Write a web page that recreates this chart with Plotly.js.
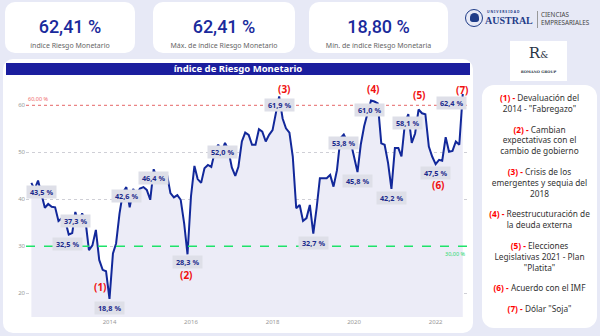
<!DOCTYPE html>
<html><head><meta charset="utf-8">
<script src="https://cdn.plot.ly/plotly-3.0.1.min.js"></script>
<style>
html,body{margin:0;padding:0;width:600px;height:336px;overflow:hidden;background:#E7E9F6;font-family:"Open Sans",sans-serif;}
.card{position:absolute;background:#fff;border-radius:10px;}
.num{position:absolute;left:0;right:0;top:15px;line-height:20px;text-align:center;font-family:Roboto,sans-serif;font-weight:500;font-size:18px;color:#1a2a9c;}
.lab{position:absolute;left:0;right:0;top:38.5px;line-height:9px;text-align:center;font-size:7px;color:#666;font-family:"Noto Sans",sans-serif;}
#chart{position:absolute;left:0;top:0;width:600px;height:336px;}
#tbar{position:absolute;left:6px;top:63px;width:464px;height:12px;background:#1B1E9E;color:#fff;font-weight:bold;font-size:9.5px;line-height:12px;text-align:center;font-family:"Noto Sans",sans-serif;}
#legend{position:absolute;left:482px;top:85px;width:115px;height:243px;background:#fff;border-radius:12px;padding-top:8px;box-sizing:border-box;}
#legend p{margin:0 0 10px 0;text-align:center;font-size:8.3px;line-height:10.8px;color:#333;font-family:"Noto Sans",sans-serif;}
#legend b{color:#f00;}
.logo{position:absolute;font-family:"Noto Sans",sans-serif;white-space:nowrap;}
</style></head>
<body>
<div class="card" style="left:5px;top:2px;width:130px;height:51px;"><div class="num" id="k1"></div><div class="lab">índice Riesgo Monetario</div></div>
<div class="card" style="left:153px;top:2px;width:142px;height:51px;"><div class="num" id="k2"></div><div class="lab">Máx. de índice Riesgo Monetario</div></div>
<div class="card" style="left:309px;top:2px;width:139px;height:51px;"><div class="num" id="k3"></div><div class="lab">Mín. de índice Riesgo Monetaria</div></div>

<div class="logo" style="left:465px;top:9px;width:18px;height:18px;border:1.5px solid #1F3C88;border-radius:50%;box-sizing:border-box;"></div>
<div class="logo" style="left:469.5px;top:13px;width:9px;height:9px;background:#1F3C88;border-radius:50% 50% 30% 30%;"></div>
<div class="logo" style="left:487px;top:10px;font-size:3.4px;line-height:4px;letter-spacing:0.9px;color:#1F3C88;font-weight:bold;">UNIVERSIDAD</div>
<div class="logo" style="left:485px;top:15px;font-size:10px;font-weight:bold;color:#1F3C88;font-family:'Liberation Serif',serif;line-height:11px;">AUSTRAL</div>
<div class="logo" style="left:537px;top:11px;width:1px;height:17px;background:#999;"></div>
<div class="logo" style="left:541px;top:11px;font-size:6.3px;line-height:7.5px;color:#444;">CIENCIAS<br>EMPRESARIALES</div>
<div class="logo" style="left:510px;top:41px;width:57px;height:40px;background:#fff;"></div>
<div class="logo" style="left:510px;top:44px;width:57px;text-align:center;font-family:'DejaVu Serif',serif;font-size:15px;color:#2a3545;line-height:18px;">R<span style="font-size:9px">&amp;</span></div>
<div class="logo" style="left:510px;top:70px;width:57px;text-align:center;font-family:'DejaVu Serif',serif;font-size:3.6px;color:#2a3545;font-weight:bold;">ROMANO GROUP</div>

<div class="card" style="left:3px;top:59px;width:470px;height:274px;"></div>
<div id="tbar">índice de Riesgo Monetario</div>

<div id="legend">
<p><b>(1) -</b> Devaluación del<br>2014 - "Fabregazo"</p>
<p><b>(2) -</b> Cambian<br>expectativas con el<br>cambio de gobierno</p>
<p><b>(3) -</b> Crisis de los<br>emergentes y sequia del<br>2018</p>
<p><b>(4) -</b> Reestrucuturación de<br>la deuda externa</p>
<p><b>(5) -</b> Elecciones<br>Legislativas 2021 - Plan<br>"Platita"</p>
<p><b>(6) -</b> Acuerdo con el IMF</p>
<p><b>(7) -</b> Dólar "Soja"</p>
</div>

<div id="chart"></div>
<script>
const months = [
 "2012-02","2012-03","2012-04","2012-05","2012-06","2012-07","2012-08","2012-09","2012-10","2012-11","2012-12",
 "2013-01","2013-02","2013-03","2013-04","2013-05","2013-06","2013-07","2013-08","2013-09","2013-10","2013-11","2013-12",
 "2014-01","2014-02","2014-03","2014-04","2014-05","2014-06","2014-07","2014-08","2014-09","2014-10","2014-11","2014-12",
 "2015-01","2015-02","2015-03","2015-04","2015-05","2015-06","2015-07","2015-08","2015-09","2015-10","2015-11","2015-12",
 "2016-01","2016-02","2016-03","2016-04","2016-05","2016-06","2016-07","2016-08","2016-09","2016-10","2016-11","2016-12",
 "2017-01","2017-02","2017-03","2017-04","2017-05","2017-06","2017-07","2017-08","2017-09","2017-10","2017-11","2017-12",
 "2018-01","2018-02","2018-03","2018-04","2018-05","2018-06","2018-07","2018-08","2018-09","2018-10","2018-11","2018-12",
 "2019-01","2019-02","2019-03","2019-04","2019-05","2019-06","2019-07","2019-08","2019-09","2019-10","2019-11","2019-12",
 "2020-01","2020-02","2020-03","2020-04","2020-05","2020-06","2020-07","2020-08","2020-09","2020-10","2020-11","2020-12",
 "2021-01","2021-02","2021-03","2021-04","2021-05","2021-06","2021-07","2021-08","2021-09","2021-10","2021-11","2021-12",
 "2022-01","2022-02","2022-03","2022-04","2022-05","2022-06","2022-07","2022-08","2022-09"
];
const riesgo = [
 43.5, 42.1, 44.0, 41.3, 38.2, 39.0, 38.4, 38.3, 35.4, 36.0, 35.4,
 32.5, 32.8, 37.3, 34.9, 37.0, 35.2, 29.2, 30.2, 33.5, 27.1, 25.0, 24.7,
 18.8, 28.5, 30.6, 37.0, 41.4, 42.6, 38.3, 42.2, 41.1, 42.3, 42.6, 42.0,
 39.9, 46.4, 44.5, 44.8, 44.7, 45.2, 41.3, 40.4, 40.9, 39.9, 34.9, 28.3,
 40.6, 47.1, 44.3, 43.5, 46.6, 47.3, 46.9, 50.1, 51.6, 50.1, 52.0, 50.5,
 46.8, 45.0, 46.9, 52.3, 54.2, 53.7, 51.6, 51.6, 54.9, 54.4, 52.3, 53.7,
 54.7, 58.3, 61.9, 57.2, 55.1, 54.2, 49.1, 38.1, 38.8, 35.4, 36.0, 38.8,
 32.7, 38.4, 44.5, 44.5, 44.5, 45.2, 42.7, 46.2, 53.0, 53.8, 52.3, 52.3,
 49.1, 45.8, 51.6, 55.6, 58.3, 61.0, 60.8, 60.4, 51.9, 51.6, 47.7, 42.2,
 50.9, 50.9, 49.1, 56.2, 58.1, 52.0, 54.0, 59.1, 58.3, 58.1, 51.2, 49.1,
 47.5, 48.4, 48.2, 53.2, 50.1, 50.3, 52.3, 51.6, 62.41
];
const xTickVals = ["2014-01-01","2016-01-01","2018-01-01","2020-01-01","2022-01-01"];
const yTickVals = [20, 30, 40, 50, 60];
const refHigh = 60;
const refLow = 30;
const labelMonths = ["2012-02","2013-01","2013-03","2014-01","2014-06","2015-02","2015-12","2016-11","2018-03","2019-01","2019-10","2020-02","2020-06","2020-12","2021-05","2022-01","2022-09"];
const labelXShift = [10,-1,0,0,0,0,0,-3,0,0,0,0,-2,0,-1,0,-11];
const labelYShift = [-9,-9,-9,-9,-9,-9,-7.5,-9,-9,-9,-9,-9,-9,-9,-9,-9,-9];
const eventMonths = ["2014-01","2015-12","2018-03","2020-06","2021-08","2022-01","2022-09"];
const eventTexts = ["(1)","(2)","(3)","(4)","(5)","(6)","(7)"];
const eventShiftX = [-9,-1.5,5,2,0.6,3,0];
const eventShiftY = [12,-21,7,11.6,15,-21,4];

const fmt = (v, d) => v.toFixed(d).replace('.', ',') + ' %';
const last = riesgo[riesgo.length - 1];
document.getElementById('k1').textContent = fmt(last, 2);
document.getElementById('k2').textContent = fmt(Math.max(...riesgo), 2);
document.getElementById('k3').textContent = fmt(Math.min(...riesgo), 2);

const annotations = [];
labelMonths.forEach((m, i) => {
  const v = riesgo[months.indexOf(m)];
  annotations.push({x: m, y: v, xref: 'x', yref: 'y', showarrow: false,
    text: '<b>\u00a0' + fmt(v, 1) + '\u00a0</b>', font: {size: 7.3, color: '#1B2A8C', family: 'Noto Sans'},
    bgcolor: '#DEDFE8', borderpad: 1, xshift: labelXShift[i], yshift: labelYShift[i]});
});
eventMonths.forEach((m, i) => {
  const v = riesgo[months.indexOf(m)];
  annotations.push({x: m, y: v, xref: 'x', yref: 'y', showarrow: false,
    text: '<b>' + eventTexts[i] + '</b>', font: {size: 10, color: '#F01010', family: 'Noto Sans'},
    xshift: eventShiftX[i], yshift: eventShiftY[i]});
});
annotations.push({xref: 'paper', x: 0, xanchor: 'left', yref: 'y', y: refHigh, yshift: 6, showarrow: false,
  text: fmt(refHigh, 2), font: {size: 5.5, color: '#F06A6A', family: 'Noto Sans'}});
annotations.push({xref: 'paper', x: 1, xanchor: 'right', yref: 'y', y: refLow, yshift: -8, showarrow: false,
  text: fmt(refLow, 2), font: {size: 5.5, color: '#1ED96B', family: 'Noto Sans'}});

const trace = {x: months, y: riesgo, type: 'scatter', mode: 'lines',
  line: {color: '#12289A', width: 2}, fill: 'tozeroy', fillcolor: '#ECECF7', hoverinfo: 'skip'};

const layout = {
  width: 600, height: 336, margin: {l: 26, r: 133, t: 80, b: 19},
  paper_bgcolor: 'rgba(0,0,0,0)', plot_bgcolor: '#fff', separators: ',.', showlegend: false,
  xaxis: {type: 'date', range: ['2011-12-15', '2022-10-09'], tickvals: xTickVals, tickformat: '%Y',
    showgrid: false, zeroline: false, showline: false, ticks: '',
    tickfont: {size: 6, color: '#999', family: 'Noto Sans'}},
  yaxis: {range: [14.96, 65.38], tickvals: yTickVals, ticksuffix: ' %', showgrid: true,
    gridcolor: '#CFCFD6', griddash: 'dot', gridwidth: 1, zeroline: false, showline: false, ticks: '',
    tickfont: {size: 6, color: '#999', family: 'Noto Sans'}},
  shapes: [
    {type: 'line', xref: 'paper', x0: 0, x1: 1, yref: 'y', y0: refHigh, y1: refHigh, line: {color: '#F07070', width: 1, dash: 'dot'}},
    {type: 'line', xref: 'paper', x0: 0, x1: 1, yref: 'y', y0: refLow, y1: refLow, line: {color: '#1EE36A', width: 1.6, dash: 'dash'}}
  ],
  annotations: annotations
};
Plotly.newPlot('chart', [trace], layout, {displayModeBar: false, staticPlot: true});
</script>
</body></html>
